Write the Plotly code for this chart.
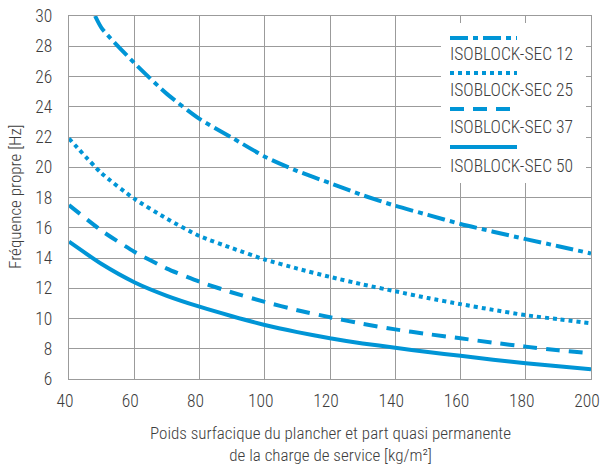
import plotly.graph_objects as go

# ---- data ----
x_sec12 = [48, 50, 60, 70, 80, 90, 100, 110, 120, 130, 140, 150, 160, 170, 180, 190, 200]
y_sec12 = [30.0, 29.2, 26.9, 24.85, 23.2, 21.95, 20.7, 19.75, 18.95, 18.15, 17.45, 16.85, 16.25, 15.74, 15.25, 14.78, 14.3]

x_common = [40, 50, 60, 70, 80, 90, 100, 110, 120, 130, 140, 150, 160, 170, 180, 190, 200]
y_sec25 = [21.9, 19.6, 17.92, 16.6, 15.45, 14.65, 13.9, 13.3, 12.75, 12.25, 11.8, 11.35, 10.95, 10.57, 10.22, 9.95, 9.68]
y_sec37 = [17.5, 15.8, 14.42, 13.3, 12.43, 11.72, 11.1, 10.55, 10.08, 9.65, 9.28, 8.97, 8.69, 8.4, 8.14, 7.9, 7.7]
y_sec50 = [15.08, 13.6, 12.4, 11.5, 10.78, 10.15, 9.57, 9.1, 8.69, 8.35, 8.07, 7.78, 7.54, 7.28, 7.04, 6.84, 6.64]

series_names = ["ISOBLOCK-SEC 12", "ISOBLOCK-SEC 25", "ISOBLOCK-SEC 37", "ISOBLOCK-SEC 50"]
x_ticks = [40, 60, 80, 100, 120, 140, 160, 180, 200]
y_ticks = [6, 8, 10, 12, 14, 16, 18, 20, 22, 24, 26, 28, 30]

x_title = "Poids surfacique du plancher et part quasi permanente<br>de la charge de service [kg/m²]"
y_title = "Fréquence propre [Hz]"

# ---- styles ----
BLUE = "#0095d6"
TEXT = "#3d3d3d"
GRID = "#9b9b9b"
FONT = "Roboto Condensed, Liberation Sans Narrow, Roboto, sans-serif"
WEIGHT = 300
dashes = ["18px,5px,5px,5px", "4px,4px", "14px,9px", "solid"]
LW = 4

fig = go.Figure()
all_x = [x_sec12, x_common, x_common, x_common]
all_y = [y_sec12, y_sec25, y_sec37, y_sec50]
for xs, ys, name, d in zip(all_x, all_y, series_names, dashes):
    fig.add_trace(go.Scatter(x=xs, y=ys, mode="lines", name=name,
                             line=dict(color=BLUE, width=LW, dash=d, shape="spline", smoothing=0.6),
                             showlegend=False, hoverinfo="skip"))

# plot area in pixels: x 69..591, y 16..379
L, R, T, B = 69, 10, 16, 90
W, H = 601, 469
pw, ph = W - L - R, H - T - B

def px(xpix):
    return (xpix - L) / pw

def py(ypix):
    return (H - B - ypix) / ph

def fnt(size):
    return dict(family=FONT, size=size, color=TEXT, weight=WEIGHT)

shapes = []
annotations = []
# legend background
shapes.append(dict(type="rect", xref="paper", yref="paper",
                   x0=px(441), x1=px(586), y0=py(183), y1=py(23),
                   fillcolor="white", line=dict(width=0), layer="above"))
leg_line_y = [38, 73, 109, 147]
leg_text_y = [54, 90, 127, 166]
for i, name in enumerate(series_names):
    shapes.append(dict(type="line", xref="paper", yref="paper",
                       x0=px(450), x1=px(517), y0=py(leg_line_y[i]), y1=py(leg_line_y[i]),
                       line=dict(color=BLUE, width=LW, dash=dashes[i]), layer="above"))
    annotations.append(dict(xref="paper", yref="paper", x=px(448), y=py(leg_text_y[i]),
                            xanchor="left", yanchor="middle", showarrow=False, text=name,
                            font=fnt(17.5)))

annotations.append(dict(xref="paper", yref="paper", x=px(330), y=py(444),
                        xanchor="center", yanchor="middle", showarrow=False, text=x_title,
                        font=fnt(17)))
annotations.append(dict(xref="paper", yref="paper", x=px(15), y=py(197),
                        xanchor="center", yanchor="middle", showarrow=False, text=y_title,
                        textangle=-90, font=fnt(17)))

fig.update_layout(
    width=W, height=H,
    margin=dict(l=L, r=R, t=T, b=B),
    paper_bgcolor="white", plot_bgcolor="white",
    font=fnt(17),
    shapes=shapes, annotations=annotations,
    showlegend=False,
)
fig.update_xaxes(range=[40, 200], tickvals=x_ticks, showgrid=True, gridcolor=GRID, gridwidth=1,
                 showline=True, linecolor=GRID, linewidth=1.3, mirror=True, zeroline=False,
                 automargin=False,
                 ticks="", ticklabelstandoff=6, ticklabelshift=-4, ticklabeloverflow="allow",
                 tickfont=fnt(17.5))
fig.update_yaxes(range=[6, 30], tickvals=y_ticks, showgrid=True, gridcolor=GRID, gridwidth=1,
                 showline=True, linecolor=GRID, linewidth=1.3, mirror=True, zeroline=False,
                 automargin=False,
                 ticks="", ticklabelstandoff=12, tickfont=fnt(17.5))

fig.write_html("out.html")
